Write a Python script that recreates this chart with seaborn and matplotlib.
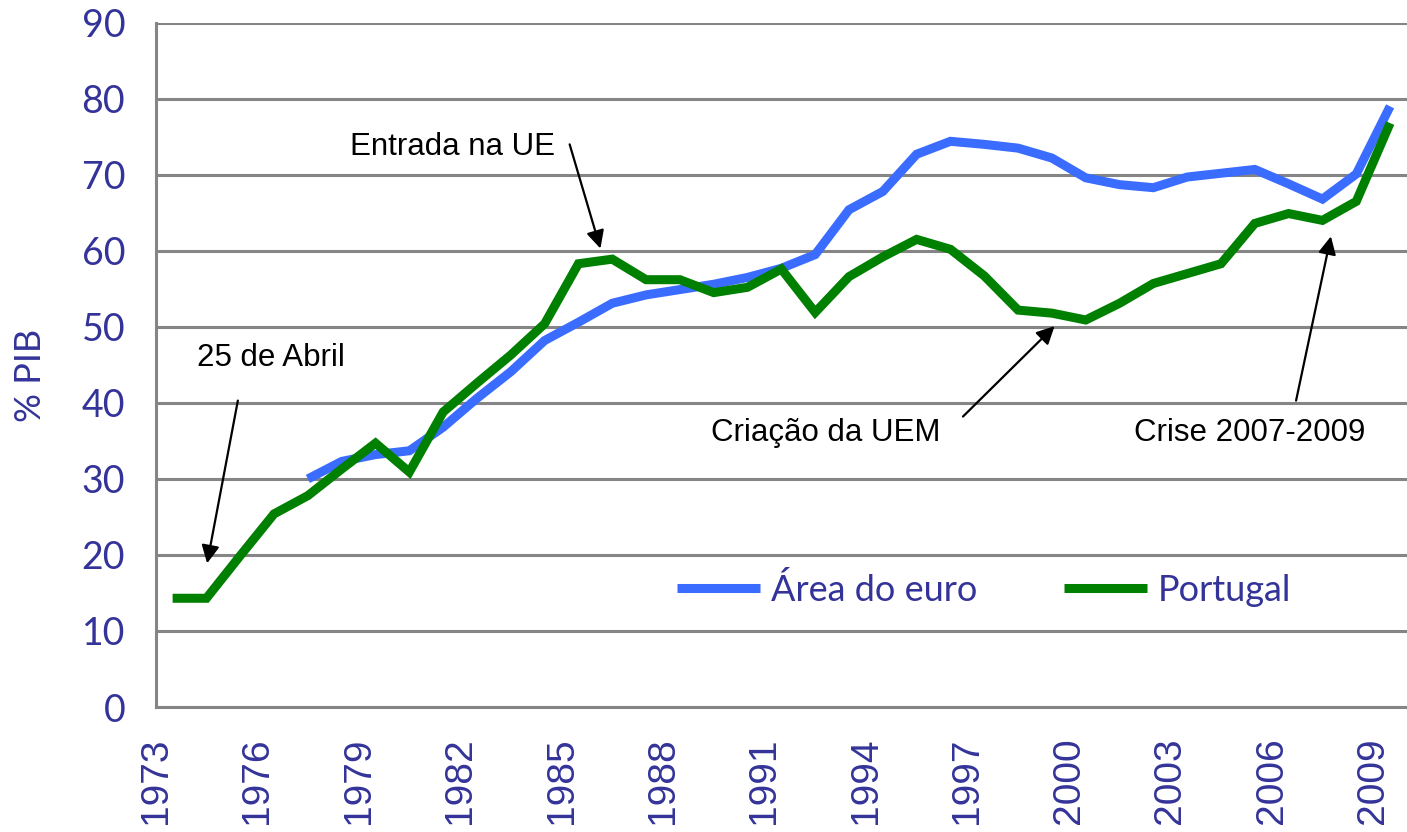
import matplotlib
matplotlib.use("Agg")
import matplotlib.pyplot as plt
from matplotlib.lines import Line2D
import seaborn as sns
import pandas as pd
import numpy as np

# ---- data -------------------------------------------------------------
years_pt = list(range(1973, 2010))
portugal = [14.3, 14.3, 19.9, 25.4, 27.8, 31.3, 34.7, 30.9, 38.8, 42.6,
            46.3, 50.4, 58.3, 58.9, 56.2, 56.2, 54.5, 55.2, 57.6, 51.9,
            56.6, 59.2, 61.5, 60.2, 56.7, 52.2, 51.8, 50.9, 53.1, 55.7,
            57.0, 58.3, 63.6, 64.9, 64.0, 66.5, 76.8]

years_eu = list(range(1977, 2010))
euro_area = [30.0, 32.3, 33.2, 33.7, 36.8, 40.6, 44.1, 48.2, 50.6, 53.1,
             54.2, 54.9, 55.6, 56.5, 57.7, 59.5, 65.4, 67.8, 72.7, 74.4,
             74.0, 73.5, 72.2, 69.6, 68.7, 68.3, 69.7, 70.2, 70.7, 68.8,
             66.8, 70.1, 79.0]

series_names = ["Área do euro", "Portugal"]
series_colors = ["#3A6CFF", "#008000"]
xtick_years = list(range(1973, 2010, 3))
yticks = list(range(0, 91, 10))

df = pd.concat([
    pd.DataFrame({"pos": np.array(years_eu) + 0.5, "valor": euro_area,
                  "serie": series_names[0]}),
    pd.DataFrame({"pos": np.array(years_pt) + 0.5, "valor": portugal,
                  "serie": series_names[1]}),
], ignore_index=True)

# ---- style ------------------------------------------------------------
sns.set_style("white")
plt.rcParams["font.family"] = ["Liberation Sans", "DejaVu Sans"]
label_color = "#333399"
grid_color = "#858585"

fig = plt.figure(figsize=(14.07, 8.32), dpi=100)
ax = fig.add_axes([0.11066, 0.15024, 1.0 - 0.11066, 0.82248])

sns.lineplot(data=df, x="pos", y="valor", hue="serie",
             hue_order=series_names, palette=series_colors,
             linewidth=6.5, legend=False, ax=ax, sort=True)
for ln in ax.get_lines():
    ln.set_solid_capstyle("butt")
    ln.set_solid_joinstyle("miter")

ax.set_xlim(1973, 2010)
ax.set_ylim(0, 90)
ax.set_yticks(yticks)
ax.set_xticks(xtick_years)
ax.set_xticklabels([str(y) for y in xtick_years], rotation=90)

ax.yaxis.grid(True, color=grid_color, linewidth=2.2)
ax.xaxis.grid(False)
ax.set_axisbelow(True)
for s in ["top", "right"]:
    ax.spines[s].set_visible(False)
for s in ["left", "bottom"]:
    ax.spines[s].set_color(grid_color)
    ax.spines[s].set_linewidth(2.2)

ax.tick_params(axis="both", which="major", direction="out", length=10,
               width=2, color=grid_color, labelcolor=label_color)
ax.tick_params(axis="y", pad=12, labelsize=27)
ax.tick_params(axis="x", pad=12, labelsize=28)
for lab in ax.get_yticklabels():
    lab.set_fontfamily(["Lato", "DejaVu Sans"])
for lab in ax.get_xticklabels():
    lab.set_fontfamily(["Liberation Sans", "DejaVu Sans"])

ax.set_xlabel("")
ax.set_ylabel("% PIB", fontsize=26, color=label_color,
              fontfamily=["Lato", "DejaVu Sans"], labelpad=30)
ax.yaxis.set_label_coords(-0.087, 0.485)

# ---- legend -----------------------------------------------------------
handles = [Line2D([], [], color=c, linewidth=6.5, solid_capstyle="butt")
           for c in series_colors]
leg = ax.legend(handles, series_names, loc="center",
                bbox_to_anchor=(1997.5, 15.4), bbox_transform=ax.transData,
                ncol=2, frameon=False, handlelength=2.3, handletextpad=0.3,
                columnspacing=2.4, borderpad=0, borderaxespad=0,
                prop={"family": ["Lato", "DejaVu Sans"], "size": 26})
for t in leg.get_texts():
    t.set_color(label_color)

# ---- annotations ------------------------------------------------------
arrow_kw = dict(arrowstyle="-|>", color="black", lw=1.6,
                mutation_scale=27, shrinkA=0, shrinkB=0)
notes = [
    ("25 de Abril", (1974.22, 44.9), (1975.43, 40.3), (1974.52, 18.9)),
    ("Entrada na UE", (1978.74, 72.66), (1985.24, 74.0), (1986.15, 60.3)),
    ("Criação da UEM", (1989.43, 35.04), (1996.87, 38.2), (1999.58, 50.1)),
    ("Crise 2007-2009", (2001.94, 35.04), (2006.72, 40.3), (2007.75, 61.9)),
]
for txt, tpos, start, tip in notes:
    ax.text(tpos[0], tpos[1], txt, fontsize=22.5, color="black",
            ha="left", va="baseline",
            fontfamily=["Liberation Sans", "DejaVu Sans"])
    ax.annotate("", xy=tip, xytext=start, arrowprops=arrow_kw)

fig.savefig("out.png", dpi=100)
